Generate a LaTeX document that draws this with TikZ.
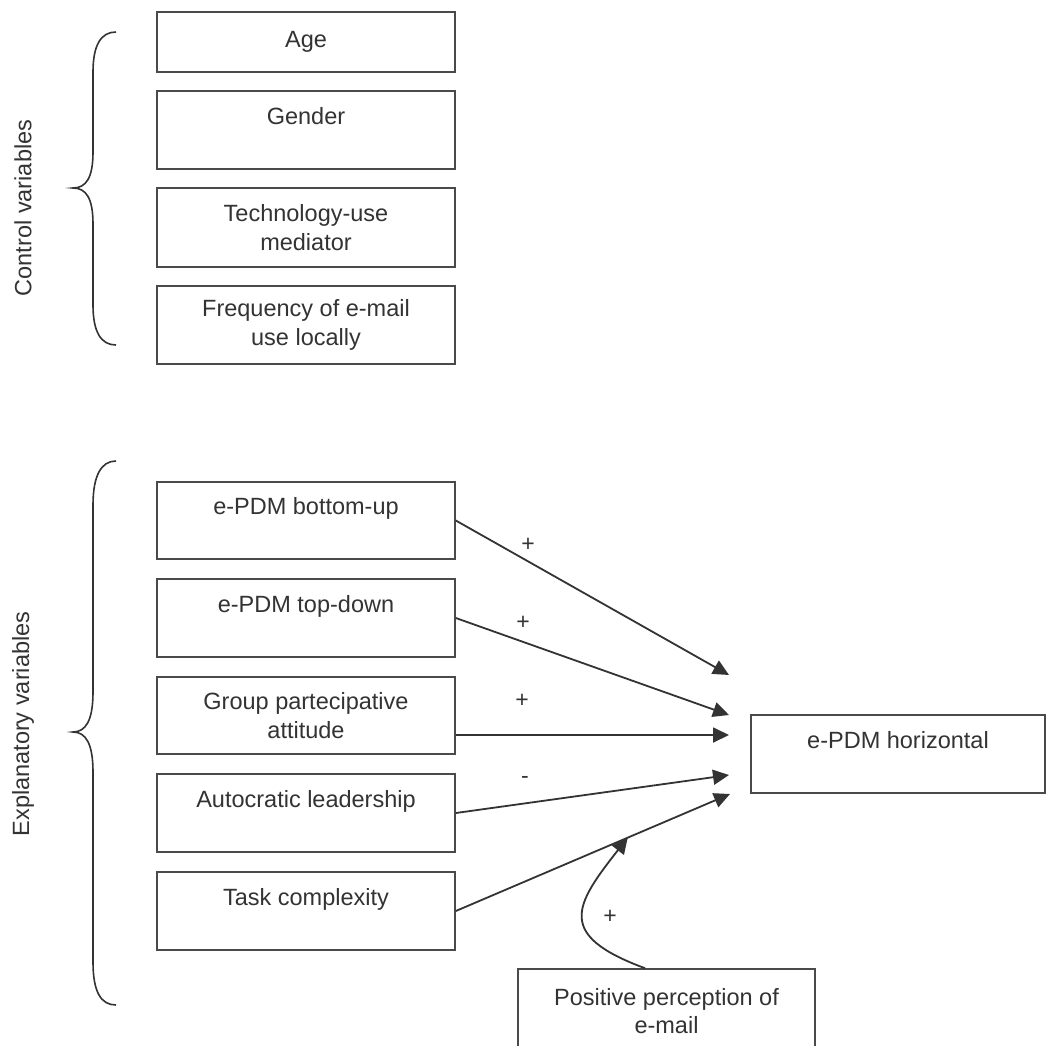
\documentclass[tikz,border=0pt]{standalone}
\usepackage{fontspec}
\setmainfont{Liberation Sans}
\usetikzlibrary{arrows.meta,calc}
\definecolor{ink}{HTML}{333333}
\definecolor{edge}{HTML}{4A4A4A}
\begin{document}
\begin{tikzpicture}[x=1pt,y=-1pt,
  varbox/.style={draw=edge,line width=1.6pt,rectangle,align=center,text=ink,
    minimum width=298pt,minimum height=78pt,inner sep=0pt,
    font=\fontsize{23.5pt}{28.5pt}\selectfont},
  sidelabel/.style={rotate=90,text=ink,font=\fontsize{23.5pt}{28.5pt}\selectfont},
  sign/.style={text=ink,font=\fontsize{23pt}{26pt}\selectfont,inner sep=0pt},
  brace/.style={draw=ink,line width=1.6pt},
  arr/.style={draw=ink,line width=1.8pt,-{Triangle[length=16pt,width=15pt]}}]
\useasboundingbox (0,0) rectangle (1045,1046);
\fill[white] (0,0) rectangle (1045,1046);

% control variables
\node[varbox,minimum height=60pt] (age) at (306,42) {Age};
\node[varbox] (gender) at (306,130) {Gender\\\phantom{x}};
\node[varbox,minimum height=79pt] (tech) at (306,227.5) {Technology-use\\mediator};
\node[varbox] (freq) at (306,325) {Frequency of e-mail\\use locally};

% explanatory variables
\node[varbox,minimum height=77pt] (b1) at (306,520.5) {e-PDM bottom-up\\\phantom{x}};
\node[varbox] (b2) at (306,618) {e-PDM top-down\\\phantom{x}};
\node[varbox,minimum height=77pt] (b3) at (306,715.5) {Group partecipative\\attitude};
\node[varbox] (b4) at (306,813) {Autocratic leadership\\\phantom{x}};
\node[varbox] (b5) at (306,911) {Task complexity\\\phantom{x}};

% outcome and moderator
\node[varbox,minimum width=294pt] (hor) at (898,754) {e-PDM horizontal\\\phantom{x}};
\node[varbox,minimum width=297pt,minimum height=84pt] (pos) at (666.5,1011) {Positive perception of\\e-mail};

% side labels
\node[sidelabel] (lc) at (23,208) {Control variables};
\node[sidelabel] (le) at (23,724) {Explanatory variables};

% braces
\draw[brace] (116,32) .. controls (101,32) and (93,45) .. (93,72) -- (93,152)
  .. controls (93,178) and (86,188) .. (73,188)
  .. controls (86,188) and (93,198) .. (93,224) -- (93,305)
  .. controls (93,332) and (101,345) .. (116,345);
\draw[brace] (116,461) .. controls (101,461) and (93,476) .. (93,505) -- (93,692)
  .. controls (93,720) and (86,732) .. (73,732)
  .. controls (86,732) and (93,744) .. (93,772) -- (93,962)
  .. controls (93,992) and (101,1005) .. (116,1005);

% arrow targets
\coordinate (t1) at (729,675);
\coordinate (t2) at (729,715);
\coordinate (t3) at (729,735);
\coordinate (t4) at (729,775);
\coordinate (t5) at (730,794);

\draw[arr] (b1.east) -- (t1);
\draw[arr] (b2.east) -- (t2);
\draw[arr] ([yshift=-19.5pt]b3.east) -- (t3);
\draw[arr] (b4.east) -- (t4);
\draw[arr] (b5.east) -- (t5);
\coordinate (m) at ($(b5.east)!0.627!(t5)$);
\draw[arr] ([xshift=-21.5pt]pos.north) .. controls (555,935) and (575,905) .. (m);

% signs
\node[sign] (s1) at (528,545) {+};
\node[sign] (s2) at (523,623) {+};
\node[sign] (s3) at (522,701) {+};
\node[sign] (s4) at (525,780) {-};
\node[sign] (s5) at (610,917) {+};
\end{tikzpicture}
\end{document}
